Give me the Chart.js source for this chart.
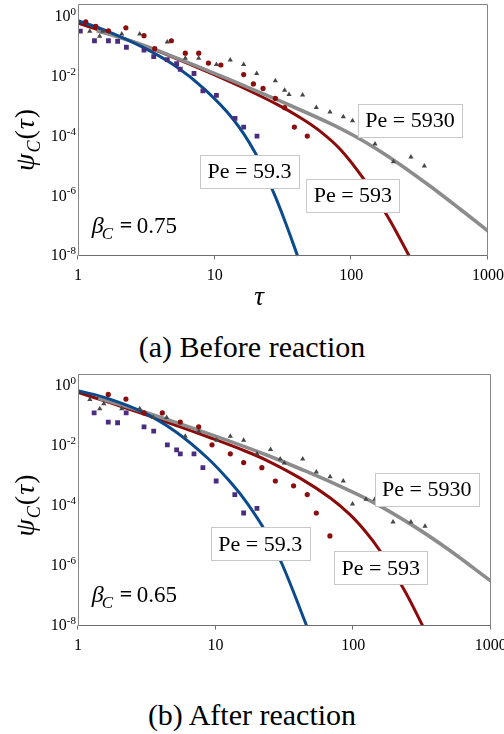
<!DOCTYPE html>
<html><head><meta charset="utf-8">
<script src="https://cdn.jsdelivr.net/npm/chart.js@4.4.1/dist/chart.umd.min.js"></script>
<style>
html,body{margin:0;padding:0;background:#fff;}
body{width:504px;height:734px;position:relative;overflow:hidden;font-family:"Liberation Serif",serif;}
canvas{position:absolute;left:0;display:block;}
.cap{position:absolute;left:0;width:504px;text-align:center;font-family:"Liberation Serif","Times New Roman",serif;font-size:30px;line-height:30px;color:#000;}
.warm{position:absolute;left:-999px;top:0;font-family:"Liberation Serif";}
</style></head><body>
<span class="warm">Pe <i>βψτC</i> <b>=</b></span>
<canvas id="ca" style="top:0" width="504" height="312"></canvas>
<div class="cap" style="top:332px">(a) Before reaction</div>
<canvas id="cb" style="top:360px" width="504" height="300"></canvas>
<div class="cap" style="top:700px">(b) After reaction</div>
<script>
// ---------- tick labels ----------
const tauTicks = [1, 10, 100, 1000];
const psiTickExps = [0, -2, -4, -6, -8];
const boxLabels = ['Pe = 59.3', 'Pe = 593', 'Pe = 5930'];

// ---------- (a) Before reaction ----------
const aSqTau = [1.04,1.32,1.67,1.95,2.26,3.04,3.58,4.5,5.27,5.6,7.06,8.2,10.3,14.1,16.3,20.4];
const aSqPsi = [0.34,0.162,0.162,0.155,0.098,0.079,0.048,0.038,0.028,0.018,0.013,0.0034,0.0024,4.1e-4,2.1e-4,1.05e-4];
const aCiTau = [1.14,1.35,1.67,2.24,3.04,3.64,4.82,6.1,7.64,9.0,11.1,16.3,19.2,22.6,27.8,32.5,38.3,47.6];
const aCiPsi = [0.70,0.49,0.35,0.44,0.24,0.088,0.162,0.062,0.062,0.029,0.025,0.012,0.0058,0.0041,0.0019,9.3e-4,2.1e-4,1.05e-4];
const aTrTau = [1.22,1.44,1.52,2.09,2.83,4.5,6.1,7.64,10.3,13.0,16.3,20.3,27.8,32.5,35,44,55.4,69.8,87.4,102,149,203,273,342];
const aTrPsi = [0.34,0.227,0.34,0.27,0.27,0.147,0.042,0.042,0.026,0.037,0.026,0.013,0.0075,0.0036,0.0026,0.0025,9.5e-4,6.7e-4,4.6e-4,3.4e-4,5.7e-5,1.44e-5,2.1e-5,1.05e-5];
const aBlueTau = [1,1.667,3.0,5.13,8.5,13.7,19.7,26.9,33,40.5];
const aBluePsi = [0.765,0.33,0.0969,0.0235,0.00375,3.77e-4,3.0e-5,1.39e-6,1.32e-7,1e-8];
const aRedTau = [1,1.667,2.92,5.13,8.98,16.7,28.6,42.1,59.0,82.6,122.3,181.5,227,265.5];
const aRedPsi = [0.622,0.289,0.118,0.0428,0.01435,0.00401,0.0012,4.39e-4,1.53e-4,3.86e-5,3.99e-6,2.4e-7,3.85e-8,1e-8];
const aGrayTau = [1.37,1.667,2.93,5.13,8.98,16.7,30.0,69.8,106.4,149,227,376,624,1000];
const aGrayPsi = [0.348,0.272,0.120,0.0452,0.016,0.00492,0.00157,2.79e-4,1.035e-4,4.18e-5,1.18e-5,2.23e-6,3.79e-7,6.93e-8];
const aBeta = '0.75';

// ---------- (b) After reaction ----------
const bSqTau = [1.31,1.66,1.94,2.24,3.02,3.55,4.46,5.21,5.54,6.97,8.09,10.1,13.8,16.0,20.0];
const bSqPsi = [0.128,0.063,0.060,0.128,0.044,0.0316,0.011,0.0074,0.0055,0.0055,0.0019,6.8e-4,2.4e-4,5.8e-5,8.3e-5];
const bCiTau = [1.66,2.23,3.02,4.1,5.54,7.54,9.42,12.8,16.0,21.7,27.2,36.9,46.4,54,67.8];
const bCiPsi = [0.53,0.37,0.128,0.128,0.063,0.044,0.011,0.0055,0.0028,0.0019,6.8e-4,4.7e-4,2.4e-4,5.8e-5,1.0e-5];
const bTrTau = [1.22,1.44,1.54,2.08,2.81,3.52,4.41,6.02,7.54,10.2,12.8,16.0,20.0,25.1,29.5,31.6,43,54,68,84.8,99,124,144,195,263,333];
const bTrPsi = [0.36,0.175,0.257,0.175,0.175,0.090,0.090,0.0214,0.031,0.0155,0.0214,0.0155,0.0055,0.0077,0.0037,0.0027,0.0037,0.00135,9.4e-4,6.8e-4,1.15e-4,1.66e-4,1.66e-4,2.9e-5,2.9e-5,2.1e-5];
const bBlueTau = [1,1.661,2.904,5.07,8.85,13.5,16.4,22.9,30.2,45.9];
const bBluePsi = [0.708,0.385,0.141,0.0313,0.00377,4.75e-4,1.54e-4,1.49e-5,1.24e-6,1e-8];
const bRedTau = [1,1.661,2.904,5.07,8.85,16.4,23.5,41.1,67.9,94.9,125,154,232,320];
const bRedPsi = [0.617,0.292,0.123,0.0505,0.0201,0.00684,0.00333,8.47e-4,1.88e-4,5.1e-5,1.28e-5,3.57e-6,1.75e-7,1e-8];
const bGrayTau = [1.405,1.661,2.904,5.07,8.85,16.4,23.5,41.1,71.8,140,274,479,1000];
const bGrayPsi = [0.394,0.317,0.145,0.0629,0.0261,0.00942,0.00502,0.00175,5.75e-4,1.32e-4,2.16e-5,3.84e-6,3.13e-7];
const bBeta = '0.65';

const FONT = '"Liberation Serif", serif';
const pts = (t, p) => t.map((v, i) => ({x: v, y: p[i]}));

function drawBox(ctx, cx, cy, text) {
  ctx.font = '22px ' + FONT;
  const w = Math.round(ctx.measureText(text).width + 15), h = 33;
  const l = Math.round(cx - w / 2) + 0.5, t = Math.round(cy - h / 2) + 0.5;
  ctx.fillStyle = '#fff'; ctx.fillRect(l, t, w, h);
  ctx.strokeStyle = '#c8c8c8'; ctx.lineWidth = 1; ctx.strokeRect(l, t, w, h);
  ctx.fillStyle = '#000'; ctx.textAlign = 'center'; ctx.textBaseline = 'middle';
  ctx.fillText(text, cx, cy + 1);
}

const overlay = {
  id: 'overlay',
  afterDatasetsDraw(chart, args, o) {
    const {ctx, chartArea: ca, scales: {x, y}} = chart;
    ctx.save();
    const L = Math.round(ca.left) + 0.5, R = Math.round(ca.right) - 0.5;
    const T = Math.round(ca.top) + 0.5, B = Math.round(ca.bottom) - 0.5;
    ctx.strokeStyle = '#868686'; ctx.lineWidth = 1;
    ctx.beginPath(); ctx.moveTo(L, B); ctx.lineTo(L, T); ctx.lineTo(R, T); ctx.lineTo(R, B); ctx.stroke();
    ctx.strokeStyle = '#6e6e6e';
    ctx.beginPath(); ctx.moveTo(L, B); ctx.lineTo(R, B); ctx.stroke();
    ctx.fillStyle = '#000'; ctx.font = '16px ' + FONT; ctx.textAlign = 'center'; ctx.textBaseline = 'middle';
    tauTicks.forEach(v => {
      const px = Math.round(x.getPixelForValue(v)) - 0.5;
      ctx.beginPath(); ctx.moveTo(px, B); ctx.lineTo(px, B + 4); ctx.stroke();
      ctx.fillText(String(v), x.getPixelForValue(v), ca.bottom + 20);
    });
    psiTickExps.forEach(e => {
      const py = y.getPixelForValue(Math.pow(10, e));
      ctx.textAlign = 'right';
      ctx.font = '11px ' + FONT;
      const es = String(e);
      const ew = ctx.measureText(es).width;
      ctx.fillText(es, ca.left - 2, py - 5);
      ctx.font = '16px ' + FONT;
      ctx.fillText('10', ca.left - 2 - ew, py);
    });
    o.boxes.forEach((b, i) => drawBox(ctx, x.getPixelForValue(b[0]), y.getPixelForValue(b[1]), boxLabels[i]));
    const bx = x.getPixelForValue(o.beta[0]), by = y.getPixelForValue(o.beta[1]);
    ctx.textAlign = 'left'; ctx.textBaseline = 'alphabetic';
    ctx.font = 'italic 24px ' + FONT; ctx.fillText('β', bx, by);
    ctx.font = 'italic 17px ' + FONT; ctx.fillText('C', bx + 10, by + 6);
    ctx.font = 'bold 22px ' + FONT; ctx.fillText('=', bx + 28, by - 1);
    ctx.font = '23px ' + FONT; ctx.fillText(o.betaText, bx + 45, by);
    const parts = [
      ['ψ', 'italic 28px ' + FONT, 0],
      ['C', 'italic 18px ' + FONT, 6],
      ['(', '28px ' + FONT, 0],
      ['τ', 'italic 28px ' + FONT, 0],
      [')', '28px ' + FONT, 0]];
    let tw = 0;
    parts.forEach(p => { ctx.font = p[1]; tw += ctx.measureText(p[0]).width + 1; });
    ctx.save();
    ctx.translate(o.psiX, y.getPixelForValue(o.psiY));
    ctx.rotate(-Math.PI / 2);
    let cx = -tw / 2;
    parts.forEach(p => { ctx.font = p[1]; ctx.fillText(p[0], cx, 7 + p[2]); cx += ctx.measureText(p[0]).width + 1; });
    ctx.restore();
    if (o.tauLabel) {
      ctx.font = 'italic 27px ' + FONT; ctx.textAlign = 'center';
      ctx.fillText('τ', x.getPixelForValue(o.tauLabel[0]), ca.bottom + o.tauLabel[1]);
    }
    ctx.restore();
  }
};

function makeChart(id, d, lay, o) {
  const curve = (t, p, c, w) => ({data: pts(t, p), showLine: true, pointRadius: 0, borderColor: c, borderWidth: w, tension: 0.4, fill: false});
  const datasets = [
    {data: pts(d.sqT, d.sqP), showLine: false, pointStyle: 'rect', pointRadius: 3.4, pointBorderWidth: 0, pointBackgroundColor: '#4b2d7f'},
    {data: pts(d.ciT, d.ciP), showLine: false, pointStyle: 'circle', pointRadius: 2.6, pointBorderWidth: 0, pointBackgroundColor: '#8b0d0d'},
    {data: pts(d.trT, d.trP), showLine: false, pointStyle: 'triangle', pointRadius: 3.0, pointBorderWidth: 0, pointBackgroundColor: '#474747'},
    curve(d.blT, d.blP, '#0b4a8c', 3),
    curve(d.grT, d.grP, '#8c8c8c', 3.6),
    curve(d.rdT, d.rdP, '#8c0a0a', 3)
  ];
  return new Chart(document.getElementById(id), {
    type: 'scatter',
    data: {datasets},
    plugins: [overlay],
    options: {
      responsive: false, animation: false, events: [],
      layout: {padding: {left: 0, right: lay.pr, top: lay.pt, bottom: 0}},
      plugins: {legend: {display: false}, tooltip: {enabled: false}, overlay: o},
      scales: {
        x: {type: 'logarithmic', min: 1, max: 1000, ticks: {display: false}, grid: {display: false}, border: {display: false},
            afterFit(s) { s.height = lay.xh; }},
        y: {type: 'logarithmic', min: 1e-8, max: lay.ymax, ticks: {display: false}, grid: {display: false}, border: {display: false},
            afterFit(s) { s.width = 78; }}
      }
    }
  });
}

function build() {
  makeChart('ca',
    {sqT: aSqTau, sqP: aSqPsi, ciT: aCiTau, ciP: aCiPsi, trT: aTrTau, trP: aTrPsi,
     blT: aBlueTau, blP: aBluePsi, rdT: aRedTau, rdP: aRedPsi, grT: aGrayTau, grP: aGrayPsi},
    {pr: 16, pt: 2.3, xh: 55.8, ymax: 2.75},
    {boxes: [[17.99, 6.9e-6], [102.6, 1.1e-6], [268.6, 3.46e-4]], beta: [1.26, 6.2e-8], betaText: aBeta,
     psiX: 27, psiY: 8.1e-5, tauLabel: [21.1, 49]});
  makeChart('cb',
    {sqT: bSqTau, sqP: bSqPsi, ciT: bCiTau, ciP: bCiPsi, trT: bTrTau, trP: bTrPsi,
     blT: bBlueTau, blP: bBluePsi, rdT: bRedTau, rdP: bRedPsi, grT: bGrayTau, grP: bGrayPsi},
    {pr: 13.3, pt: 14, xh: 34.3, ymax: 2.55},
    {boxes: [[21.1, 5.37e-6], [158.9, 8.6e-7], [343, 3.5e-4]], beta: [1.258, 6.05e-8], betaText: bBeta,
     psiX: 27, psiY: 1.07e-4, tauLabel: null});
}

const fontLoads = ['22px "Liberation Serif"', 'italic 24px "Liberation Serif"', 'bold 22px "Liberation Serif"']
  .map(f => document.fonts.load(f, 'Pe βψτ'));
Promise.all(fontLoads).then(build, build);
</script>
</body></html>
